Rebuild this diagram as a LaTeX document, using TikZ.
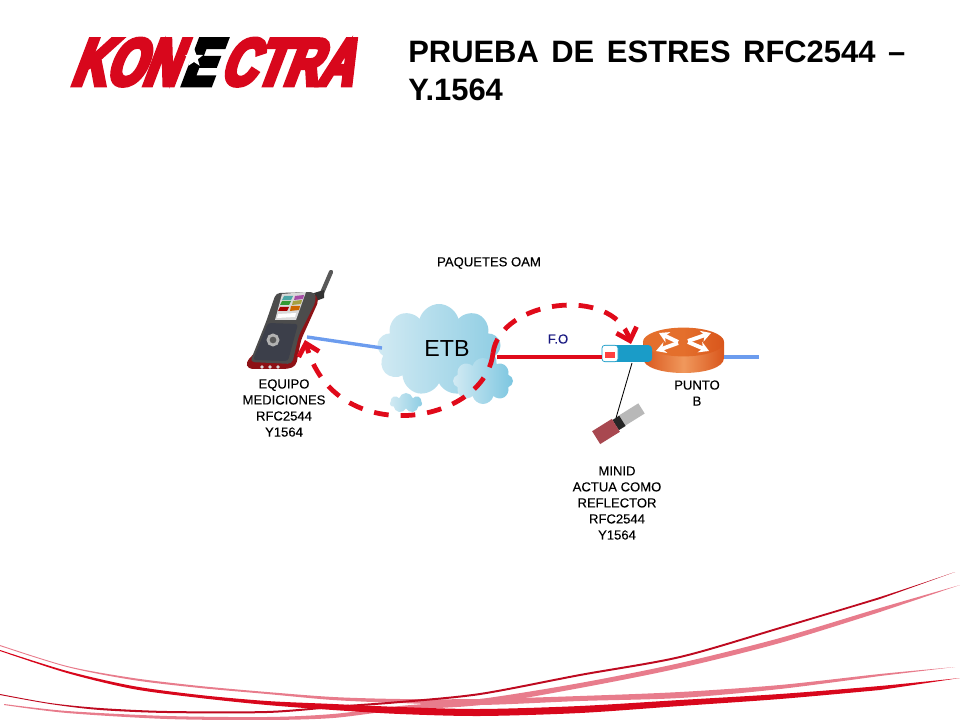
\documentclass[tikz,border=0pt]{standalone}
\usepackage{fontspec}
\setmainfont{Liberation Sans}
\newfontfamily\logofont[FakeStretch=0.72,FakeBold=7,FakeSlant=0.38]{Liberation Sans Bold}
\newfontfamily\labelfont[FakeBold=0.2]{Liberation Sans}
\usetikzlibrary{arrows.meta, shapes.geometric, shapes.symbols}

\definecolor{swred}{HTML}{D8071C}
\definecolor{swdark}{HTML}{BE0A20}
\definecolor{swpink}{HTML}{E87C8C}
\definecolor{linkblue}{HTML}{6C9CEE}
\definecolor{sfpblue}{HTML}{1A9CC8}
\definecolor{cloudlight}{HTML}{D2EAF3}
\definecolor{clouddeep}{HTML}{8ECDE3}
\definecolor{cloudright}{HTML}{7CC6E0}
\definecolor{routerside}{HTML}{D9561C}
\definecolor{routermid}{HTML}{F0985C}
\definecolor{routertopc}{HTML}{E46F2C}
\definecolor{oamred}{HTML}{E00A1A}
\definecolor{devpanel}{HTML}{3C3F4A}
\definecolor{devedge}{HTML}{8E1216}
\definecolor{plugred}{HTML}{A84850}

\tikzset{
  label/.style={font=\labelfont\fontsize{9.3}{11.4}\selectfont, align=center, inner sep=0pt, text=black},
  cloudbit/.style={cloud, cloud puffs=#1, aspect=1.5, inner sep=0pt, left color=cloudlight, right color=clouddeep},
  link/.style={line width=2.4pt},
  logotext/.style={font=\logofont\fontsize{47}{47}\selectfont, inner sep=0pt, anchor=base west}
}

\begin{document}
\begin{tikzpicture}[x=0.025cm, y=-0.025cm]
\useasboundingbox (0, 0) rectangle (960, 720);

\fill[swpink] plot[smooth] coordinates {(0,645) (67,666) (133,678) (200,686) (267,692) (333,697) (400,699) (480,699) (580,696) (680,692) (780,685) (880,674) (955,667)}
  -- plot[smooth] coordinates {(880,676) (780,689) (680,698) (580,701) (480,705) (400,703) (333,700) (267,694) (200,688) (133,680) (67,667) (0,646)} -- cycle;
\fill[swpink] plot[smooth] coordinates {(4,704) (67,711) (167,716) (267,717) (333,714) (400,706) (480,699) (580,683) (680,663) (780,638) (880,608) (960,585)}
  -- plot[smooth] coordinates {(880,612) (780,643) (680,668) (580,688) (480,705) (400,710) (333,718) (267,720) (167,719) (67,713) (4,705)} -- cycle;
\fill[swdark] plot[smooth] coordinates {(0,694) (50,703) (100,708) (167,711) (267,711) (333,706) (400,701) (480,693) (580,674) (680,656) (780,627) (880,597) (955,572)}
  -- plot[smooth] coordinates {(880,599) (780,629) (680,658) (580,676) (480,695) (400,703) (333,708) (267,713) (167,713) (100,710) (50,704) (0,695)} -- cycle;
\fill[swred] plot[smooth] coordinates {(0,650) (67,671) (133,686) (200,695) (267,701) (333,704) (400,707) (480,709) (580,706) (680,700) (780,694) (880,686) (960,678)}
  -- plot[smooth] coordinates {(880,690) (780,699) (680,706) (580,713) (480,716) (400,714) (333,710) (267,705) (200,698) (133,689) (67,673) (0,651)} -- cycle;

\node[logotext, text=swred] (logokon) at (70, 85) {KON};
\node[logotext, text=black] (logoe) at (180, 85) {E};
\node[logotext, text=swred] (logoctra) at (219, 85) {CTRA};
\node[star, star points=5, star point ratio=2.4, fill=white, minimum size=0.48cm, inner sep=0pt] (logostar) at (194, 58) {};

\node[font=\bfseries\fontsize{22}{27}\selectfont, align=left, inner sep=0pt, anchor=north west] (title) at (408, 41)
  {\spaceskip=8.9pt PRUEBA DE ESTRES RFC2544 --\\Y.1564};

\node[label] (paquetes) at (489, 263) {PAQUETES OAM};

\node[cloudbit=9, minimum width=3.1cm, minimum height=2.3cm] (etb) at (439, 350) {};
\node[cloudbit=8, minimum width=1.5cm, minimum height=1.15cm, right color=cloudright] (etbright) at (483, 381) {};
\node[cloudbit=7, minimum width=0.8cm, minimum height=0.5cm] (etbsmall) at (406, 403) {};
\node[font=\fontsize{16.5}{20}\selectfont, inner sep=0pt] (etblabel) at (447, 349) {ETB};

\draw[black!65, line width=3pt, line cap=round] (322, 293) -- (331, 272);
\fill[black!80] (314, 293) -- (324, 290) -- (324, 298) -- (316, 301) -- cycle;
\fill[devedge, rounded corners=3pt] (313, 292) -- (319, 300) -- (301, 340) -- (296, 366) -- (288, 369) -- (248, 369) -- (246, 362) -- cycle;
\fill[black!70, rounded corners=3pt] (276, 293) -- (315, 292) -- (316, 301) -- (299, 335) -- (292, 364) -- (250, 362) -- (266, 322) -- cycle;
\fill[devpanel, rounded corners=2pt] (268, 323) -- (298, 324) -- (288, 361) -- (253, 360) -- cycle;
\fill[black!15] (282, 294) -- (306, 292) -- (296, 320) -- (275, 320) -- cycle;
\fill[teal!70] (284, 296) -- (293, 296) -- (291, 300) -- (282, 300) -- cycle;
\fill[violet!70] (295, 296) -- (304, 295) -- (303, 299) -- (294, 300) -- cycle;
\fill[green!50!black!80] (282, 301) -- (291, 301) -- (289, 305) -- (280, 305) -- cycle;
\fill[yellow!60!black] (293, 301) -- (302, 300) -- (301, 304) -- (292, 305) -- cycle;
\fill[red!65!black] (280, 307) -- (289, 307) -- (287, 311) -- (278, 311) -- cycle;
\fill[orange!80!black] (291, 306) -- (300, 306) -- (299, 310) -- (290, 311) -- cycle;
\fill[white] (278, 314) -- (296, 313) -- (295, 317) -- (277, 318) -- cycle;
\filldraw[fill=black!65, draw=black!30, line width=2pt] (273, 340) circle [radius=5];
\fill[black!15] (262, 367) circle [radius=1.8] (270, 367) circle [radius=1.8] (278, 367) circle [radius=1.8];

\node[label] (equipolabel) at (284, 408) {EQUIPO\\MEDICIONES\\RFC2544\\Y1564};

\shade[left color=routerside, right color=routerside, middle color=routermid]
  (643, 342) -- (643, 358) .. controls (643, 378) and (724, 378) .. (724, 358) -- (724, 342) -- cycle;
\node[ellipse, minimum width=2.03cm, minimum height=0.72cm, inner sep=0pt, left color=routertopc, right color=routerside, middle color=routertopc] (router) at (683.5, 342) {};
\begin{scope}[>={Stealth[white, length=7pt, width=8pt]}, white, line width=2.8pt]
    \draw[->] (678, 342) -- (659, 333);
    \draw[->] (688, 341) -- (711, 333);
    \draw[->] (678, 343) -- (656, 351);
    \draw[->] (688, 342) -- (709, 351);
\end{scope}
\node[label] (punto) at (697, 393) {PUNTO\\B};

\node[rounded corners=2.5pt, fill=sfpblue, minimum width=1.25cm, minimum height=0.42cm, inner sep=0pt] (sfp) at (627, 353.5) {};
\node[rounded corners=2pt, fill=white, draw=sfpblue, line width=0.5pt, minimum width=0.4cm, minimum height=0.41cm, inner sep=0pt] (sfpleft) at (610, 353.5) {};
\node[fill=red!75, minimum width=0.26cm, minimum height=0.17cm, inner sep=0pt] (sfptag) at (610, 355) {};

\node[rotate=32, fill=black!28, minimum width=0.62cm, minimum height=0.3cm, inner sep=0pt] (minidbody) at (631, 415) {};
\node[rotate=32, fill=black!85, minimum width=0.2cm, minimum height=0.3cm, inner sep=0pt] (minidchip) at (619, 423) {};
\node[rotate=32, fill=plugred, minimum width=0.58cm, minimum height=0.38cm, inner sep=0pt] (minidplug) at (606, 431.5) {};
\node[label] (minid) at (617, 503) {MINID\\ACTUA COMO\\REFLECTOR\\RFC2544\\Y1564};

\coordinate (equipoport) at (307, 337);
\coordinate (equipotip) at (305, 340);
\coordinate (fibrastart) at (497, 357);
\coordinate (salida) at (759, 357);
\coordinate (etbin) at (382, 348);
\coordinate (sfptop) at (631, 344);
\coordinate (oammid) at (493, 353);
\coordinate (sfpbottom) at (632, 363);
\coordinate (minidin) at (616, 418);

\draw[link, linkblue] (equipoport) -- (etbin);
\draw[link, oamred] (fibrastart) -- (sfpleft.west |- fibrastart);
\draw[link, linkblue] (router.east |- salida) -- (salida);
\draw[black, line width=0.6pt] (sfpbottom) -- (minidin);

\node[font=\labelfont\fontsize{9.3}{11}\selectfont, text=blue!45!black!90, inner sep=0pt] (fo) at (558, 339) {F.O};

\begin{scope}[>={Straight Barb[oamred, length=8pt, width=15pt]},
              every path/.style={draw=oamred, line width=3.4pt, dash pattern=on 10.5pt off 8.5pt}]
    \path[->] (oammid) .. controls (500, 300) and (612, 285) .. (sfptop);
    \path[->] (oammid) .. controls (485, 425) and (335, 450) .. (equipotip);
\end{scope}
\end{tikzpicture}
\end{document}
